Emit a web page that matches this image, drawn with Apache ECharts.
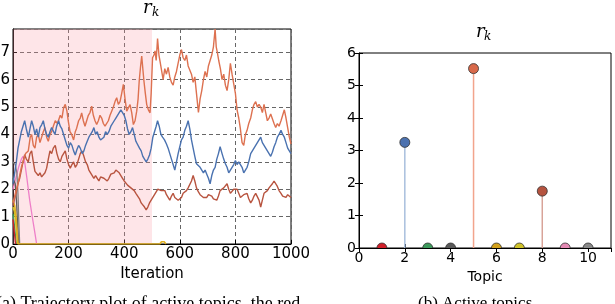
<!DOCTYPE html>
<html>
<head>
<meta charset="utf-8">
<script src="https://cdn.jsdelivr.net/npm/echarts@6/dist/echarts.min.js"></script>
<style>
html,body{margin:0;padding:0;background:#fff;}
#c{width:615px;height:304px;}
</style>
</head>
<body>
<div id="c"></div>
<script>
// ---- Trajectory data (iteration, r_k) ----
const topic5 = [[0,1.5],[10,1.9],[20,2.3],[30,2.8],[36,3.0],[45,3.3],[55,3.4],[62,3.9],[67,4.0],[73,3.6],[79,3.5],[85,3.9],[91,4.0],[97,3.7],[103,3.75],[109,4.1],[115,4.25],[121,3.9],[127,3.75],[133,4.0],[139,4.1],[145,4.3],[152,4.5],[160,4.4],[170,4.7],[176,4.6],[182,4.97],[188,5.1],[194,4.85],[199,4.48],[205,4.1],[211,4.0],[218,3.8],[224,4.1],[229,4.23],[236,4.5],[242,4.6],[247,4.79],[253,4.5],[259,4.3],[265,4.36],[271,4.7],[277,4.8],[283,5.03],[289,4.7],[295,4.5],[301,4.36],[307,4.5],[313,4.7],[319,4.6],[325,4.4],[331,4.3],[337,4.23],[343,4.5],[349,4.7],[355,4.85],[361,5.0],[367,5.2],[373,5.34],[379,5.1],[385,5.2],[391,5.5],[397,5.83],[403,5.3],[409,4.85],[415,4.9],[421,5.09],[427,4.8],[433,4.36],[439,4.5],[445,4.85],[450,5.3],[454,5.95],[459,6.5],[463,6.86],[467,6.4],[471,5.95],[476,5.5],[481,5.09],[487,4.9],[493,4.79],[497,5.5],[502,6.8],[507,6.9],[511,7.05],[515,6.7],[520,7.5],[525,6.9],[530,6.6],[535,6.3],[540,6.0],[546,6.4],[552,6.2],[558,6.45],[564,6.1],[570,5.9],[576,5.8],[582,6.1],[588,6.3],[594,6.6],[600,6.9],[606,7.1],[612,6.8],[618,6.7],[624,6.9],[630,6.5],[636,6.45],[642,6.2],[648,5.9],[654,6.1],[660,5.5],[667,4.8],[673,5.3],[679,5.6],[685,6.0],[691,6.3],[697,6.1],[703,6.5],[709,6.7],[715,6.9],[721,7.2],[727,7.85],[731,7.2],[735,7.0],[740,6.7],[746,6.4],[752,6.0],[758,6.2],[764,5.8],[770,5.6],[776,6.0],[782,6.6],[788,6.2],[794,5.85],[800,5.5],[806,4.9],[812,4.6],[818,4.2],[824,3.7],[830,3.6],[836,4.0],[842,4.15],[848,4.4],[855,4.6],[861,4.9],[867,5.1],[873,5.2],[879,5.0],[885,5.1],[891,5.0],[897,4.8],[903,5.1],[909,4.8],[915,4.5],[921,4.6],[927,4.75],[933,4.75],[939,4.4],[945,4.25],[951,4.4],[957,4.3],[964,4.5],[970,4.7],[976,4.9],[982,4.6],[988,4.25],[994,3.9],[1000,3.65]];
const topic2 = [[0,2.2],[6,2.6],[12,3.0],[18,3.5],[24,3.8],[30,4.1],[36,4.3],[42,4.5],[48,4.2],[55,3.9],[61,4.2],[67,4.5],[73,4.3],[79,4.0],[85,4.2],[91,3.9],[97,4.25],[103,4.35],[109,4.5],[115,4.2],[121,4.0],[127,3.9],[133,4.1],[139,4.25],[145,4.25],[151,4.0],[157,4.3],[164,4.5],[170,4.3],[176,4.2],[182,4.0],[188,3.8],[194,3.6],[200,3.5],[206,3.7],[212,3.6],[218,3.4],[224,3.25],[230,3.45],[236,3.6],[242,3.5],[249,3.3],[255,3.4],[261,3.6],[267,3.75],[273,3.9],[279,4.0],[285,4.1],[291,4.25],[297,4.0],[303,4.1],[309,3.9],[315,3.8],[321,3.75],[327,3.9],[333,4.1],[339,4.0],[345,4.1],[352,4.3],[358,4.35],[364,4.5],[370,4.6],[376,4.7],[382,4.8],[388,4.9],[394,4.97],[400,4.7],[406,4.5],[412,4.2],[418,4.0],[424,4.1],[430,4.25],[436,4.0],[442,3.75],[448,3.7],[455,3.5],[461,3.4],[467,3.2],[473,3.1],[479,3.0],[485,3.1],[491,3.25],[497,3.5],[503,3.9],[509,4.1],[515,4.3],[520,4.5],[526,4.3],[532,4.0],[538,3.9],[545,3.8],[552,3.65],[558,3.5],[564,3.3],[570,3.1],[576,2.9],[582,2.7],[588,3.0],[594,3.3],[600,3.55],[606,3.8],[612,3.9],[618,4.15],[624,4.3],[630,4.5],[636,4.2],[642,3.8],[648,3.5],[654,3.2],[660,2.93],[667,3.0],[673,2.8],[679,2.7],[685,2.6],[691,2.7],[697,2.55],[703,2.4],[709,2.2],[715,2.5],[721,2.7],[727,2.8],[733,3.1],[739,3.3],[745,3.55],[752,3.3],[758,3.1],[764,2.93],[770,2.8],[776,2.6],[782,2.55],[788,2.8],[794,2.9],[800,3.05],[806,2.9],[812,3.0],[818,2.93],[824,2.8],[830,2.6],[836,2.55],[842,2.8],[848,3.0],[855,3.3],[861,3.4],[867,3.5],[873,3.55],[879,3.7],[885,3.8],[891,3.9],[897,3.7],[903,3.65],[909,3.5],[915,3.4],[921,3.3],[927,3.2],[933,3.35],[939,3.55],[945,3.7],[951,3.9],[957,4.0],[964,4.15],[970,4.0],[976,3.9],[982,3.7],[988,3.5],[994,3.4],[1000,3.3]];
const topic8 = [[0,1.4],[6,1.67],[12,1.9],[18,2.2],[24,2.4],[30,2.7],[36,3.0],[42,3.26],[48,3.1],[55,3.0],[61,3.3],[67,3.4],[73,3.0],[79,2.65],[85,2.6],[91,2.5],[97,2.6],[103,2.45],[109,2.4],[115,2.6],[121,2.77],[127,3.1],[133,3.4],[139,3.3],[145,3.5],[152,3.6],[158,3.3],[164,3.1],[170,3.0],[176,3.2],[182,3.3],[188,3.4],[194,3.1],[200,2.9],[206,2.77],[212,2.9],[218,3.0],[224,2.8],[230,2.9],[236,3.1],[242,3.3],[248,3.4],[255,3.2],[261,3.0],[267,2.9],[273,2.7],[279,2.6],[285,2.5],[291,2.4],[297,2.5],[303,2.4],[309,2.3],[315,2.45],[321,2.5],[327,2.4],[333,2.35],[339,2.3],[345,2.4],[352,2.55],[358,2.5],[364,2.6],[370,2.7],[376,2.77],[382,2.6],[388,2.5],[394,2.4],[400,2.3],[406,2.25],[412,2.15],[418,2.1],[424,2.05],[430,2.05],[436,1.95],[442,1.85],[448,1.8],[455,1.65],[461,1.5],[467,1.45],[473,1.35],[479,1.25],[485,1.35],[491,1.5],[497,1.6],[503,1.67],[509,1.8],[515,1.9],[521,2.0],[527,2.05],[533,1.95],[540,2.0],[546,1.95],[552,1.8],[558,1.7],[564,1.6],[570,1.75],[576,1.85],[582,1.7],[588,1.65],[594,1.6],[600,1.6],[606,1.7],[612,1.85],[618,1.8],[624,1.95],[630,2.05],[636,2.1],[642,2.3],[648,2.5],[654,2.3],[660,2.05],[667,1.9],[673,1.8],[679,1.78],[685,1.7],[691,1.75],[697,1.7],[703,1.8],[709,1.85],[715,1.75],[721,1.65],[727,1.6],[733,1.6],[739,1.75],[745,1.95],[752,1.9],[758,2.05],[764,2.1],[770,2.2],[776,2.0],[782,1.85],[788,1.9],[794,2.0],[800,2.05],[806,2.0],[812,1.85],[818,1.7],[824,1.75],[830,1.8],[836,1.85],[842,1.85],[848,1.65],[855,1.5],[861,1.6],[867,1.75],[873,1.85],[879,1.85],[885,1.6],[891,1.35],[897,1.6],[903,1.85],[909,1.8],[915,1.95],[921,2.05],[927,2.05],[933,2.2],[939,2.3],[945,2.3],[951,2.1],[957,1.95],[964,1.85],[970,1.75],[976,1.7],[982,1.7],[988,1.8],[994,1.85],[1000,1.7]];
const topic9 = [[0,2.0],[10,2.4],[20,2.8],[30,3.1],[36,3.2],[42,3.0],[50,2.4],[60,1.6],[70,0.95],[78,0.45],[85,0]];
const topic10 = [[0,3.0],[8,2.9],[14,2.6],[18,1.8],[21,0.8],[24,0]];
const topic4 = [[0,2.4],[8,2.2],[13,1.5],[17,0.6],[20,0]];
const topic6 = [[0,1.6],[6,1.4],[11,1.0],[15,0.4],[18,0],[528,0],[534,0.08],[544,0.08],[550,0]];
const topic7 = [[0,1.35],[5,1.2],[10,0.8],[14,0.3],[17,0]];
const topic3 = [[0,1.1],[5,0.7],[10,0.2],[12,0]];
const topic1 = [[0,0.9],[4,0.5],[8,0.1],[10,0]];
const activeRegion = [0, 500];

// ---- Active topics (stem) ----
const topics = [1,2,3,4,5,6,7,8,9,10];
const rk = [0, 3.25, 0, 0, 5.52, 0, 0, 1.75, 0, 0];
const markerColors = ['#d0202a','#4c72b0','#3d9a5c','#5a5a5a','#d9694a','#d4a21c','#cfc22a','#b5533f','#e48ab4','#8a8a8a'];
const stemColors = ['#e88','#a9bfdd','#9c9','#aaa','#f2a48c','#e6cf80','#e6df90','#d8a398','#f0c0d8','#bbb'];

const xTicksLeft = {min:0, max:1000, interval:200};
const yTicksLeft = {min:0, max:7.85, interval:1};
const xTicksRight = {min:0, max:11, interval:2};
const yTicksRight = {min:0, max:6, interval:1};

const chart = echarts.init(document.getElementById('c'), null, {renderer:'canvas'});
const sans = 'DejaVu Sans';

function lineSeries(data, color, width, z, extra) {
  return Object.assign({
    type:'line', xAxisIndex:0, yAxisIndex:0, data:data, showSymbol:false, symbol:'none',
    lineStyle:{color:color, width:width}, itemStyle:{color:color}, z:z, silent:true, animation:false, clip:true
  }, extra||{});
}

const tickInside = {show:true, inside:true, length:4, lineStyle:{color:'#000', width:1}};
const dashed = {show:true, lineStyle:{color:'#666', type:[4,3], width:1}};
const plain = v => String(v);

const option = {
  animation:false,
  backgroundColor:'#fff',
  grid:[
    {left:13, top:29, width:278, height:215, show:true, borderColor:'#000', borderWidth:1, backgroundColor:'transparent', containLabel:false, outerBoundsMode:'none'},
    {left:359, top:53, width:252, height:195, show:true, borderColor:'#000', borderWidth:1, backgroundColor:'transparent', containLabel:false, outerBoundsMode:'none'}
  ],
  xAxis:[
    {type:'value', gridIndex:0, min:xTicksLeft.min, max:xTicksLeft.max, interval:xTicksLeft.interval,
     axisLine:{show:true, onZero:false, lineStyle:{color:'#000'}}, axisTick:tickInside, splitLine:dashed,
     axisLabel:{color:'#000', fontFamily:sans, fontSize:15, margin:3, formatter:plain},
     name:'Iteration', nameLocation:'middle', nameGap:20, nameTextStyle:{color:'#000', fontFamily:sans, fontSize:15}},
    {type:'value', gridIndex:1, min:xTicksRight.min, max:xTicksRight.max, interval:xTicksRight.interval,
     axisLine:{show:true, onZero:false, lineStyle:{color:'#000'}}, axisTick:tickInside, splitLine:{show:false},
     axisLabel:{color:'#000', fontFamily:sans, fontSize:14, margin:3, showMaxLabel:false, formatter:plain},
     name:'Topic', nameLocation:'middle', nameGap:19, nameTextStyle:{color:'#000', fontFamily:sans, fontSize:14}},
    {type:'value', gridIndex:1, position:'top', min:xTicksRight.min, max:xTicksRight.max, interval:xTicksRight.interval,
     axisLine:{show:false}, axisTick:tickInside, splitLine:{show:false}, axisLabel:{show:false}}
  ],
  yAxis:[
    {type:'value', gridIndex:0, min:yTicksLeft.min, max:yTicksLeft.max, interval:yTicksLeft.interval,
     axisLine:{show:true, onZero:false, lineStyle:{color:'#000'}}, axisTick:tickInside, splitLine:dashed,
     axisLabel:{color:'#000', fontFamily:sans, fontSize:15, margin:3, showMaxLabel:false, formatter:plain}},
    {type:'value', gridIndex:1, min:yTicksRight.min, max:yTicksRight.max, interval:yTicksRight.interval,
     axisLine:{show:true, onZero:false, lineStyle:{color:'#000'}}, axisTick:tickInside, splitLine:{show:false},
     axisLabel:{color:'#000', fontFamily:sans, fontSize:14, margin:3, formatter:plain}},
    {type:'value', gridIndex:1, position:'right', min:yTicksRight.min, max:yTicksRight.max, interval:yTicksRight.interval,
     axisLine:{show:false}, axisTick:tickInside, splitLine:{show:false}, axisLabel:{show:false}}
  ],
  series:[
    lineSeries(topic5, '#dd7150', 1.4, 5, {
      markArea:{silent:true, itemStyle:{color:'rgba(250,150,165,0.25)'}, data:[[{xAxis:activeRegion[0]},{xAxis:activeRegion[1]}]]}
    }),
    lineSeries(topic8, '#b8543f', 1.4, 4),
    lineSeries(topic2, '#4a72b0', 1.4, 6),
    lineSeries(topic9, '#ee7fc8', 1.3, 3),
    lineSeries(topic10, '#808080', 1.3, 3),
    lineSeries(topic4, '#5a5a5a', 1.3, 3),
    lineSeries(topic3, '#3d9a5c', 1.3, 3),
    lineSeries(topic1, '#d0202a', 1.3, 3),
    lineSeries(topic7, '#cfc22a', 1.6, 3),
    lineSeries(topic6, '#e0b020', 1.6, 3),
    {
      type:'custom', xAxisIndex:1, yAxisIndex:1, clip:true, silent:true, z:5,
      data: topics.map((t,i)=>[t, rk[i], i]),
      renderItem: function(params, api){
        const i = api.value(2);
        const top = api.coord([api.value(0), api.value(1)]);
        const base = api.coord([api.value(0), 0]);
        return {
          type:'group',
          children:[
            {type:'line', shape:{x1:base[0], y1:base[1], x2:top[0], y2:top[1]}, style:{stroke:stemColors[i], lineWidth:1.5}},
            {type:'circle', shape:{cx:top[0], cy:top[1], r:5}, style:{fill:markerColors[i], stroke:'#333', lineWidth:0.8}}
          ]
        };
      }
    }
  ],
  graphic:[
    {type:'text', left:143, top:-1, style:{text:'r', font:'italic 18px "DejaVu Serif"', fill:'#000'}},
    {type:'text', left:152, top:7, style:{text:'k', font:'italic 12px "DejaVu Serif"', fill:'#000'}},
    {type:'text', left:476, top:23, style:{text:'r', font:'italic 18px "DejaVu Serif"', fill:'#000'}},
    {type:'text', left:484, top:31, style:{text:'k', font:'italic 12px "DejaVu Serif"', fill:'#000'}},
    {type:'text', left:-4, top:295, style:{text:'(a) Trajectory plot of active topics, the red', font:'18px "Liberation Serif"', fill:'#000'}},
    {type:'text', left:418, top:295, style:{text:'(b) Active topics', font:'17px "Liberation Serif"', fill:'#000'}}
  ]
};
chart.setOption(option);
</script>
</body>
</html>
